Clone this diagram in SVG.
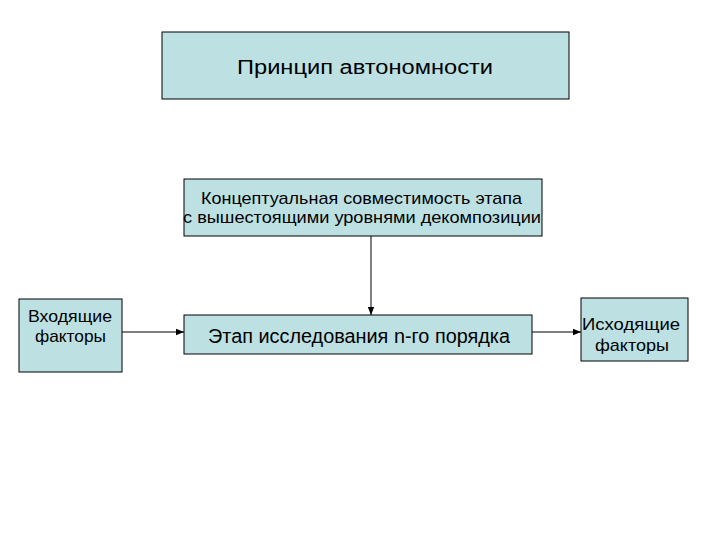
<svg xmlns="http://www.w3.org/2000/svg" width="720" height="540" viewBox="0 0 720 540">
<style>
.box{fill:#BDE0E3;stroke:#000;stroke-width:1}
text{font-family:"Liberation Sans",Arial,sans-serif;fill:#000;text-anchor:middle}
.c{stroke:#000;stroke-width:1;fill:none;marker-end:url(#ah)}
</style>
<defs>
<marker id="ah" viewBox="0 0 10 10" refX="10" refY="5" markerWidth="8" markerHeight="8" markerUnits="userSpaceOnUse" orient="auto">
<path d="M0,1 L10,5 L0,9 Z" fill="#000"/>
</marker>
</defs>
<rect width="720" height="540" fill="#fff"/>
<g id="principle">
<rect class="box" x="162" y="32" width="407" height="67"/>
<text x="365" y="74" font-size="20" textLength="256" lengthAdjust="spacingAndGlyphs">Принцип автономности</text>
</g>
<g id="compat">
<rect class="box" x="184" y="179" width="358" height="57"/>
<text x="361.5" y="203.5" font-size="17" textLength="321" lengthAdjust="spacingAndGlyphs">Концептуальная совместимость этапа</text>
<text x="362" y="223" font-size="17" textLength="358" lengthAdjust="spacingAndGlyphs">с вышестоящими уровнями декомпозиции</text>
</g>
<g id="input">
<rect class="box" x="19" y="299" width="103" height="73"/>
<text x="70" y="322" font-size="17" textLength="84" lengthAdjust="spacingAndGlyphs">Входящие</text>
<text x="70.5" y="342" font-size="17" textLength="71" lengthAdjust="spacingAndGlyphs">факторы</text>
</g>
<g id="stage">
<rect class="box" x="184" y="315" width="348" height="39"/>
<text x="359" y="343" font-size="20" textLength="302" lengthAdjust="spacingAndGlyphs">Этап исследования n-го порядка</text>
</g>
<g id="output">
<rect class="box" x="581" y="298" width="107" height="63"/>
<text x="631" y="330" font-size="17" textLength="98" lengthAdjust="spacingAndGlyphs">Исходящие</text>
<text x="632" y="351" font-size="17" textLength="74" lengthAdjust="spacingAndGlyphs">факторы</text>
</g>
<g id="connectors">
<line class="c" x1="122" y1="332" x2="184" y2="332"/>
<line class="c" x1="532" y1="332" x2="581" y2="332"/>
<line class="c" x1="371" y1="236" x2="371" y2="315"/>
</g>
</svg>
